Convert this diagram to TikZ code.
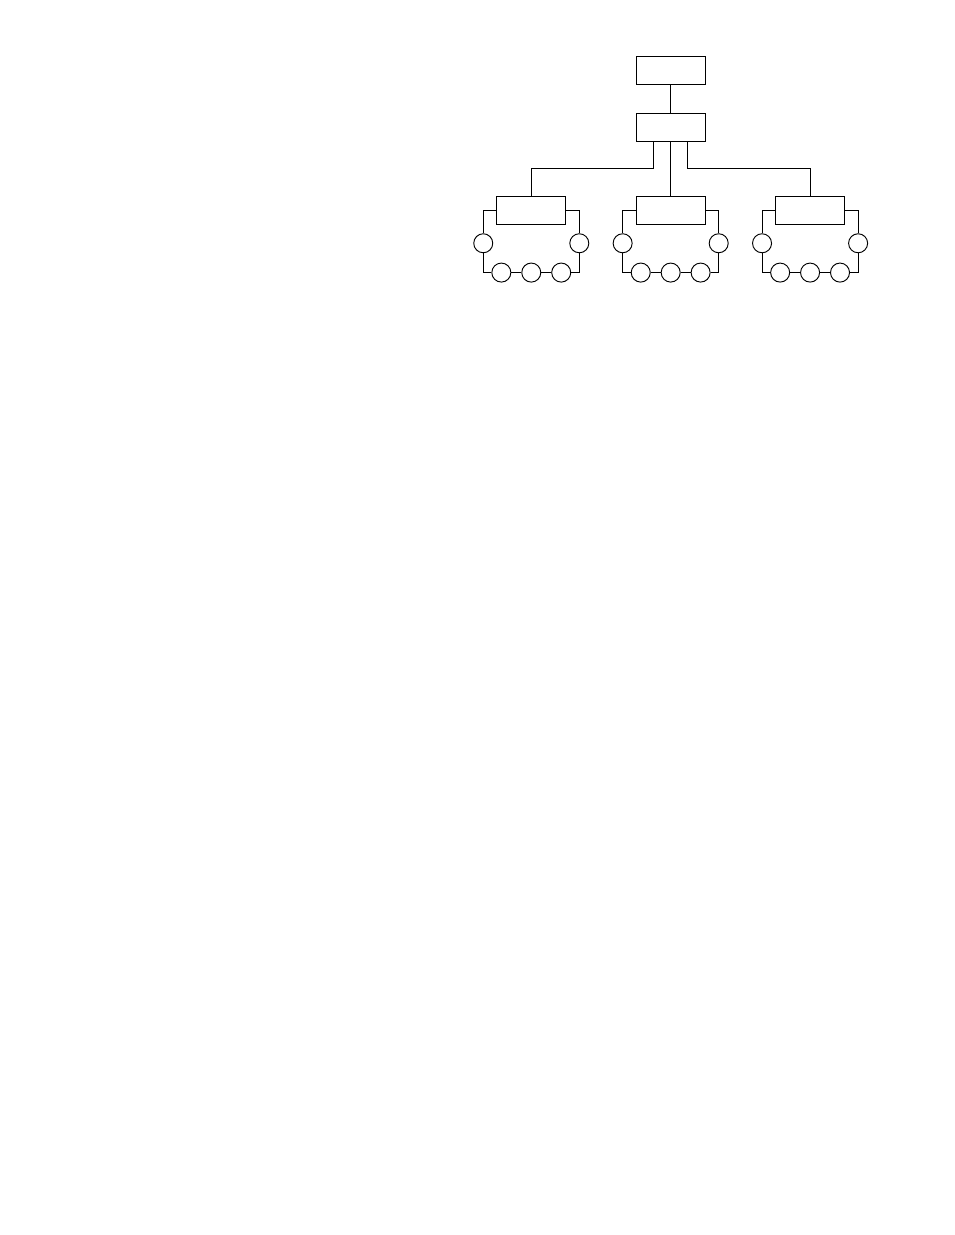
\documentclass[tikz,border=0pt]{standalone}
\usetikzlibrary{positioning,calc}

\begin{document}
\begin{tikzpicture}[line width=0.6pt, every node/.style={font=\small}]
\tikzstyle{unit}=[rectangle, draw, minimum width=44.3pt, minimum height=18pt, inner sep=0pt]
\tikzstyle{cell}=[circle, draw, fill=white, minimum size=12.2pt, inner sep=0pt]

\useasboundingbox (0,0) rectangle (612pt,-792pt);

% Top of the tree
\node[unit] (root) at (430.1pt,-45.3pt) {};
\node[unit, below=17.6pt of root] (hub) {};

% Three groups
\node[unit, below=34.9pt of hub] (grpB) {};
\node[unit, left=44.5pt of grpB] (grpA) {};
\node[unit, right=44.5pt of grpB] (grpC) {};

\draw (root) -- (hub);
\draw (hub.south) -- (grpB.north);
\draw ($(hub.south)+(-11pt,0)$) -- ++(0,-17.3pt) -| (grpA.north);
\draw ($(hub.south)+(11pt,0)$) -- ++(0,-17.3pt) -| (grpC.north);

% Ring of cells round each group
\foreach \g in {grpA,grpB,grpC} {
  \node[cell] (\g-l) at ($(\g.center)+(-30.8pt,-21pt)$) {};
  \node[cell] (\g-r) at ($(\g.center)+(30.8pt,-21pt)$) {};
  \node[cell] (\g-b1) at ($(\g.center)+(-19.2pt,-39.8pt)$) {};
  \node[cell] (\g-b2) at ($(\g.center)+(0pt,-39.8pt)$) {};
  \node[cell] (\g-b3) at ($(\g.center)+(19.2pt,-39.8pt)$) {};
  \draw (\g.west) -| (\g-l.north);
  \draw (\g-l.south) |- (\g-b1.west);
  \draw (\g-b1) -- (\g-b2);
  \draw (\g-b2) -- (\g-b3);
  \draw (\g-b3.east) -| (\g-r.south);
  \draw (\g-r.north) |- (\g.east);
}
\end{tikzpicture}
\end{document}
